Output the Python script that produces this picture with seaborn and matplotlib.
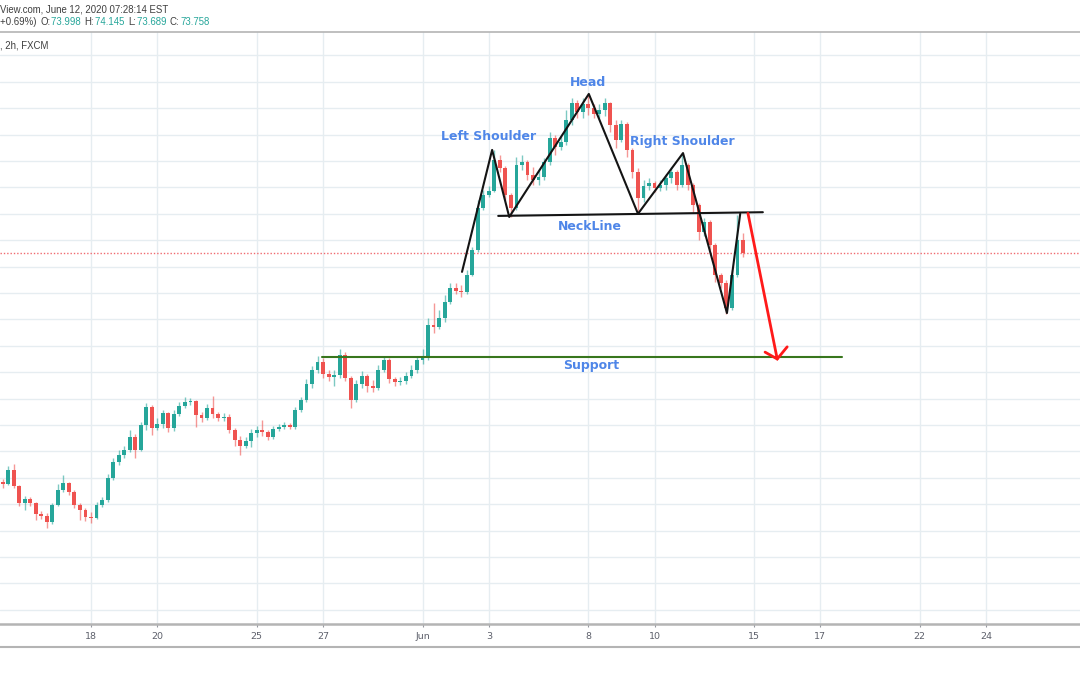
import matplotlib
matplotlib.use("Agg")
import matplotlib.pyplot as plt
from matplotlib.lines import Line2D
from matplotlib.ticker import MultipleLocator, FixedLocator, NullFormatter
import numpy as np
import pandas as pd
import seaborn as sns

# ---------------- data (AUD/JPY style 4h candles) ----------------
first_open = 69.42
close = [
    69.38, 69.65, 69.34, 69.02, 69.10, 69.02, 68.81, 68.78, 68.66, 68.99,
    69.27, 69.40, 69.23, 68.99, 68.89, 68.76, 68.74, 68.99, 69.08, 69.50,
    69.80, 69.93, 70.03, 70.27, 70.03, 70.50, 70.84, 70.44, 70.52, 70.73,
    70.44, 70.71, 70.86, 70.94, 70.95, 70.69, 70.63, 70.82, 70.71, 70.63,
    70.65, 70.41, 70.22, 70.10, 70.20, 70.35, 70.41, 70.37, 70.27, 70.42,
    70.46, 70.50, 70.46, 70.78, 70.97, 71.28, 71.54, 71.69, 71.47, 71.41,
    71.45, 71.83, 71.39, 70.97, 71.28, 71.43, 71.24, 71.20, 71.54, 71.73,
    71.37, 71.31, 71.33, 71.43, 71.54, 71.73, 71.77, 72.39, 72.36, 72.53,
    72.83, 73.09, 73.04, 73.02, 73.34, 73.81, 74.61, 74.86, 74.93, 75.52,
    75.37, 74.86, 74.61, 75.42, 75.48, 75.24, 75.14, 75.20, 75.48, 75.94,
    75.77, 75.86, 76.28, 76.60, 76.43, 76.58, 76.50, 76.39, 76.47, 76.60,
    76.18, 75.90, 76.20, 75.71, 75.29, 74.80, 75.03, 75.08, 74.99, 75.05,
    75.18, 75.29, 75.05, 75.42, 75.05, 74.67, 74.16, 74.34, 73.91, 73.34,
    73.19, 72.72, 73.34, 74.00, 73.758]
high = [
    69.48, 69.72, 69.76, 69.36, 69.16, 69.14, 69.04, 68.87, 68.83, 69.02,
    69.38, 69.55, 69.42, 69.27, 69.02, 68.93, 68.85, 69.04, 69.14, 69.57,
    69.87, 70.03, 70.10, 70.40, 70.33, 70.56, 70.92, 70.88, 70.63, 70.78,
    70.75, 70.78, 70.94, 71.03, 71.01, 70.97, 70.75, 70.90, 71.05, 70.75,
    70.73, 70.71, 70.44, 70.29, 70.27, 70.42, 70.48, 70.60, 70.41, 70.48,
    70.52, 70.56, 70.54, 70.84, 71.03, 71.37, 71.62, 71.81, 71.77, 71.54,
    71.54, 71.94, 71.88, 71.42, 71.35, 71.52, 71.47, 71.35, 71.64, 71.81,
    71.77, 71.41, 71.41, 71.50, 71.64, 71.81, 71.94, 72.53, 72.81, 72.68,
    72.96, 73.19, 73.19, 73.15, 73.44, 73.87, 74.76, 74.95, 75.03, 75.71,
    75.61, 75.41, 74.90, 75.58, 75.61, 75.52, 75.39, 75.33, 75.56, 76.05,
    76.00, 75.97, 76.47, 76.69, 76.66, 76.69, 76.77, 76.58, 76.58, 76.69,
    76.62, 76.28, 76.28, 76.24, 75.74, 75.37, 75.14, 75.18, 75.12, 75.14,
    75.25, 75.39, 75.33, 75.65, 75.46, 75.08, 74.70, 74.42, 74.38, 73.95,
    73.38, 73.25, 73.44, 74.48, 74.145]
low = [
    69.31, 69.36, 69.31, 68.97, 68.89, 68.97, 68.70, 68.72, 68.55, 68.63,
    68.97, 69.23, 69.17, 68.93, 68.70, 68.68, 68.64, 68.72, 68.95, 69.04,
    69.46, 69.74, 69.87, 69.99, 69.87, 70.00, 70.40, 70.31, 70.40, 70.44,
    70.37, 70.39, 70.67, 70.82, 70.88, 70.46, 70.56, 70.60, 70.63, 70.58,
    70.58, 70.35, 70.10, 69.93, 70.06, 70.08, 70.27, 70.29, 70.22, 70.24,
    70.39, 70.42, 70.42, 70.42, 70.75, 70.94, 71.20, 71.49, 71.39, 71.33,
    71.24, 71.39, 71.33, 70.82, 70.94, 71.20, 71.13, 71.13, 71.16, 71.50,
    71.30, 71.24, 71.26, 71.28, 71.39, 71.49, 71.66, 71.73, 72.24, 72.32,
    72.45, 72.80, 72.98, 72.92, 72.98, 73.32, 73.78, 74.57, 74.82, 74.91,
    75.29, 74.76, 74.44, 74.57, 75.33, 75.14, 75.05, 75.05, 75.14, 75.42,
    75.61, 75.71, 75.80, 76.18, 76.31, 76.31, 76.37, 76.31, 76.31, 76.35,
    76.05, 75.75, 75.86, 75.58, 75.18, 74.50, 74.72, 74.95, 74.91, 74.93,
    74.95, 75.08, 74.95, 75.01, 74.95, 74.53, 74.00, 74.08, 73.81, 73.21,
    73.09, 72.60, 72.68, 73.30, 73.689]

tick_labels = ["18", "20", "25", "27", "Jun", "3", "8", "10", "15", "17", "22", "24"]
tick_trading_day = [0, 2, 5, 7, 10, 12, 15, 17, 20, 22, 25, 27]
BARS_PER_DAY = 6
FIRST_TICK_BAR = 16

last_price = 73.758

# head & shoulders drawing (bar index, price)
pattern_x = [83.15, 88.6, 91.7, 106.1, 115.0, 123.15, 131.1, 133.5]
pattern_y = [73.40, 75.71, 74.44, 76.77, 74.50, 75.65, 72.62, 74.50]
neck_x = [89.7, 137.6]
neck_y = [74.46, 74.53]
support_x = [57.8, 151.9]
support_y = [71.78, 71.78]
arrow_x = [134.9, 140.2]
arrow_y = [74.51, 71.75]
arrowhead_x = [138.0, 140.2, 142.0]
arrowhead_y = [71.88, 71.75, 71.98]

label_text = ["Head", "Left Shoulder", "Right Shoulder", "NeckLine", "Support"]
label_x = [105.95, 87.95, 122.97, 106.3, 106.5]
label_y = [76.98, 75.97, 75.86, 74.25, 71.62]

# ---------------- figure ----------------
sns.set_theme(style="white")
plt.rcParams["font.family"] = ["DejaVu Sans"]

W, H = 1080, 675
fig = plt.figure(figsize=(W / 100, H / 100), dpi=100)
fig.patch.set_facecolor("white")
ax = fig.add_axes([0, 1 - 624 / H, 1, (624 - 32) / H])
ax.set_facecolor("white")

df = pd.DataFrame({"close": close, "high": high, "low": low})
df["open"] = [first_open] + close[:-1]
df["bar"] = np.arange(len(df))
up = df["close"] >= df["open"]
UP, DOWN = "#26a69a", "#ef5350"
body_col = np.where(up, UP, DOWN)

ax.vlines(df["bar"], df["low"], df["high"], colors=body_col, lw=1.0, alpha=0.6, zorder=3)
ax.bar(df["bar"], np.maximum((df["close"] - df["open"]).abs(), 0.012),
       bottom=np.minimum(df["open"], df["close"]), width=0.7, color=body_col,
       linewidth=0, zorder=4)

# current price dotted line
ax.axhline(last_price, color="#f06a70", lw=1.0, ls=(0, (1, 1.4)), zorder=2)

# pattern drawings
sns.lineplot(x=pattern_x, y=pattern_y, sort=False, estimator=None, color="#141414",
             lw=1.5, ax=ax, zorder=6)
ax.plot(neck_x, neck_y, color="#141414", lw=1.5, zorder=6)
ax.plot(support_x, support_y, color="#38761d", lw=1.5, zorder=5)
ax.plot(arrow_x, arrow_y, color="#ff1a1a", lw=2.0, zorder=6, solid_capstyle="round")
ax.plot(arrowhead_x, arrowhead_y, color="#ff1a1a", lw=2.0, zorder=6, solid_joinstyle="miter")

for t, x, y in zip(label_text, label_x, label_y):
    ax.text(x, y, t, ha="center", va="center", fontsize=9, fontweight="bold",
            color="#4f86e8", zorder=7)

# axes, grid, ticks
ax.set_xlim(-0.47, 195.0)
ax.set_ylim(66.731, 77.943)
tick_pos = [FIRST_TICK_BAR + BARS_PER_DAY * d for d in tick_trading_day]
ax.xaxis.set_major_locator(FixedLocator(tick_pos))
ax.set_xticklabels(tick_labels)
ax.yaxis.set_major_locator(MultipleLocator(0.5))
ax.yaxis.set_major_formatter(NullFormatter())
ax.grid(True, color="#e6edf1", lw=1.0, zorder=0)
ax.set_axisbelow(True)
ax.tick_params(axis="x", length=2.5, width=0.8, color="#9598a1", labelsize=6.8,
               labelcolor="#5d606b", pad=3, direction="out", bottom=True)
ax.tick_params(axis="y", length=0, left=False, labelleft=False)
for s in ["left", "right"]:
    ax.spines[s].set_visible(False)
ax.spines["top"].set_color("#b4b4b4")
ax.spines["top"].set_linewidth(1.2)
ax.spines["bottom"].set_color("#b4b4b4")
ax.spines["bottom"].set_linewidth(1.8)
ax.set_xlabel("")
ax.set_ylabel("")

fig.add_artist(Line2D([0, 1], [1 - 647 / H, 1 - 647 / H], transform=fig.transFigure,
                      color="#b4b4b4", lw=1.5))

# header texts
hfont = dict(fontsize=6.9, family=["Liberation Sans", "DejaVu Sans"], va="center", ha="left")
fig.text(0, 1 - 9 / H, "View.com, June 12, 2020 07:28:14 EST", color="#3f3f3f", **hfont)
fig.text(0, 1 - 45 / H, ", 2h, FXCM", color="#3f3f3f", **hfont)

renderer = fig.canvas.get_renderer()
segments = [("+0.69%) ", "#3f3f3f"), ("O:", "#3f3f3f"), ("73.998 ", UP), ("H:", "#3f3f3f"),
            ("74.145 ", UP), ("L:", "#3f3f3f"), ("73.689 ", UP), ("C:", "#3f3f3f"),
            ("73.758", UP)]
xpix = 0.0
for s, col in segments:
    t = fig.text(xpix / W, 1 - 22 / H, s, color=col, **hfont)
    bb = t.get_window_extent(renderer)
    xpix = bb.x1 + 1.0

fig.savefig("out.png", dpi=100, facecolor="white")
